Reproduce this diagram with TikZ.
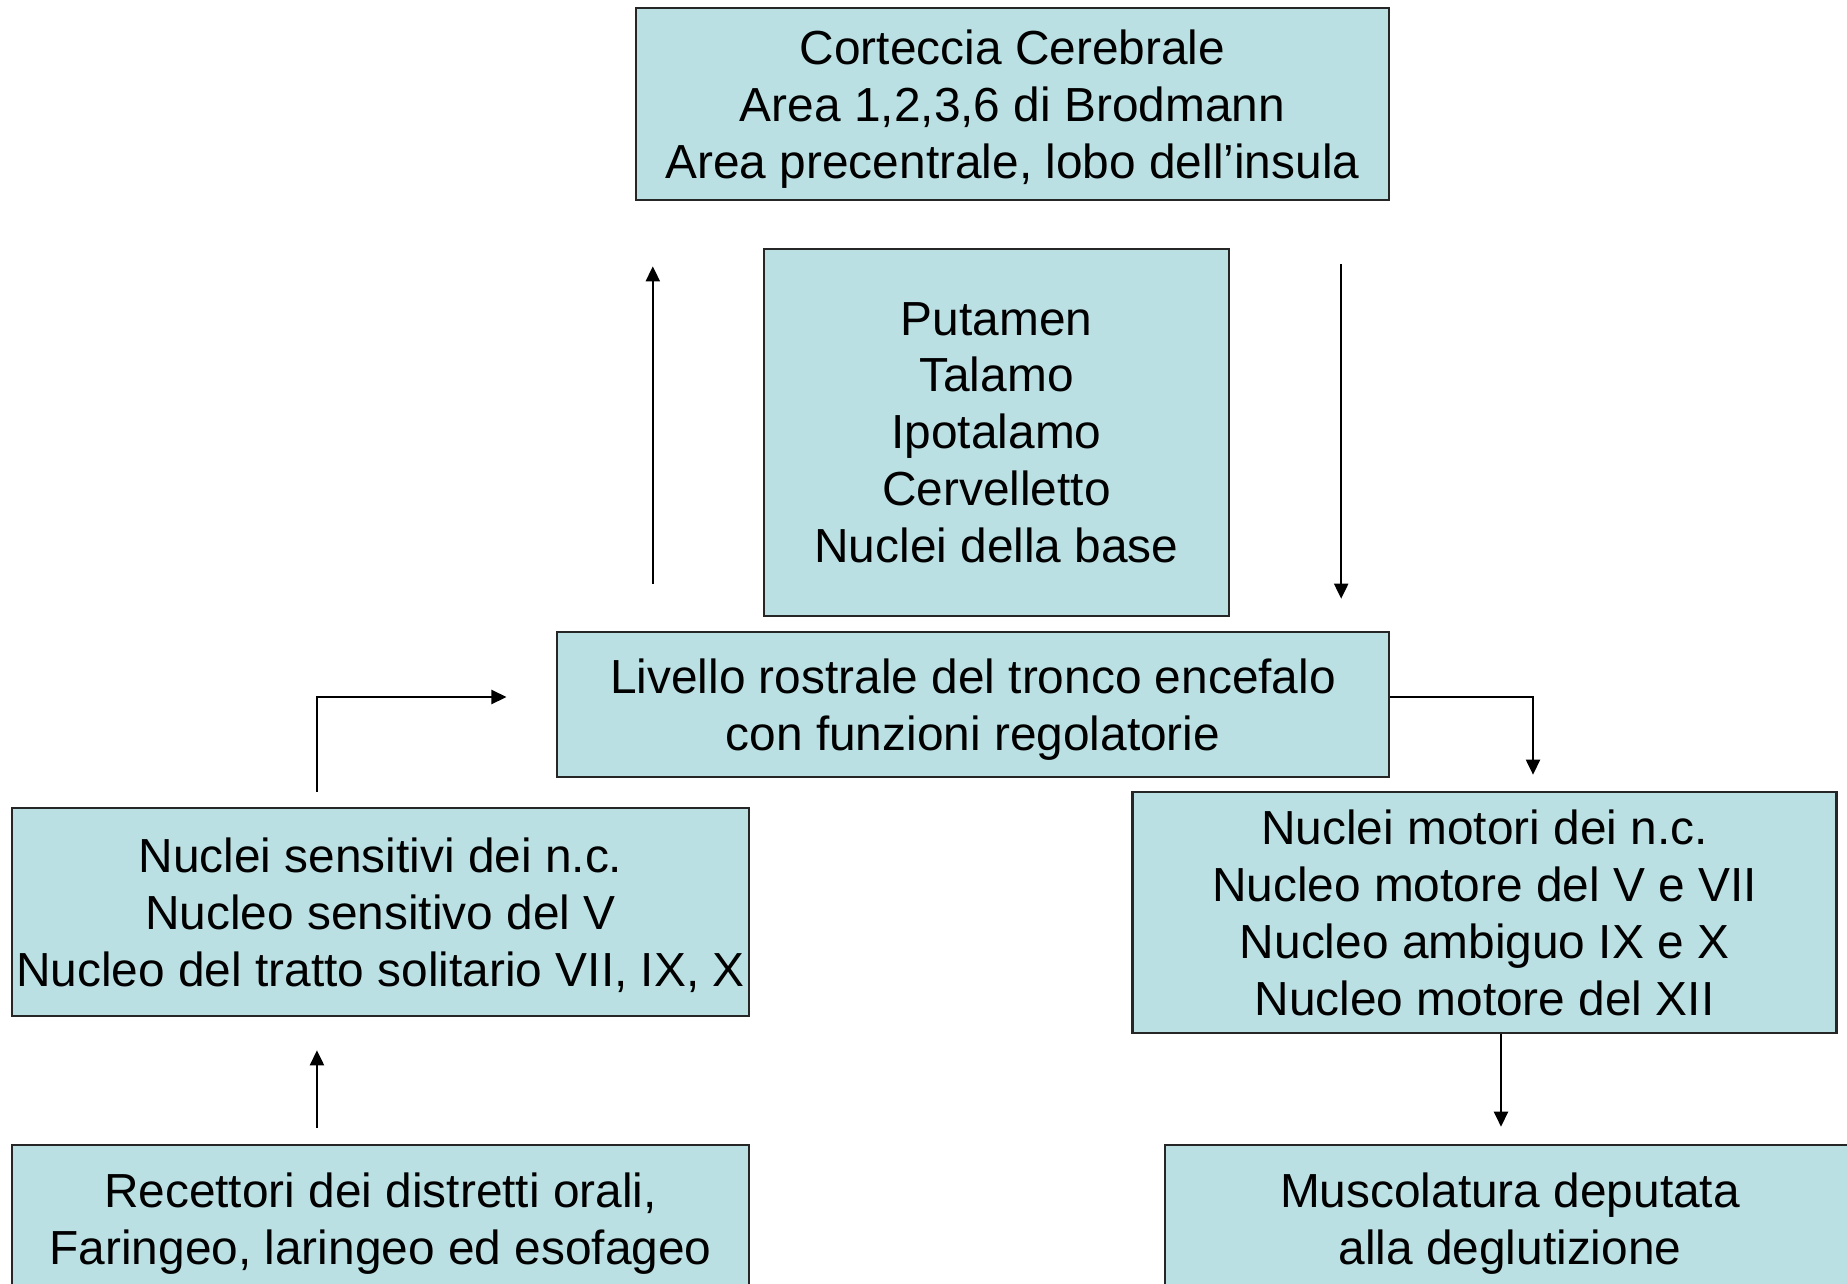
\documentclass[tikz,border=0pt]{standalone}
\usepackage{fontspec}
\setmainfont{Liberation Sans}
\usetikzlibrary{arrows.meta}
\definecolor{boxfill}{RGB}{187,224,227}

\begin{document}
\begin{tikzpicture}[x=0.01cm, y=-0.01cm, box/.style={draw=black!85, line width=0.7pt, fill=boxfill, inner sep=0pt, text depth=0pt, align=center, font=\fontsize{13.6}{16.2}\selectfont}, arr/.style={line width=0.6pt, -{Triangle[length=0.15cm, width=0.14cm]}}]
\useasboundingbox (0,0) rectangle (1847,1284);
\clip (0,0) rectangle (1847,1284);
\node[box, minimum width=7.53cm, minimum height=1.92cm] (cor) at (1012.5,104) {Corteccia Cerebrale\\Area 1,2,3,6 di Brodmann\\Area precentrale, lobo dell’insula};
\node[box, minimum width=4.65cm, minimum height=3.67cm] (put) at (996.5,432.5) {Putamen\\Talamo\\Ipotalamo\\Cervelletto\\Nuclei della base};
\node[box, minimum width=8.32cm, minimum height=1.45cm] (liv) at (973,704.5) {Livello rostrale del tronco encefalo\\con funzioni regolatorie};
\node[box, minimum width=7.37cm, minimum height=2.08cm] (sens) at (380.5,912) {Nuclei sensitivi dei n.c.\\Nucleo sensitivo del V\\Nucleo del tratto solitario VII, IX, X};
\node[box, minimum width=7.04cm, minimum height=2.41cm] (mot) at (1484.5,912.5) {Nuclei motori dei n.c.\\Nucleo motore del V e VII\\Nucleo ambiguo IX e X\\Nucleo motore del XII};
\node[box, minimum width=7.37cm, minimum height=1.48cm] (rec) at (380.5,1219) {Recettori dei distretti orali,\\Faringeo, laringeo ed esofageo};
\node[box, minimum width=6.90cm, minimum height=1.48cm] (mus) at (1510,1219) {Muscolatura deputata\\alla deglutizione};
\draw[arr, shorten <=0.47cm, shorten >=0.65cm] ([xshift=-3.2cm]liv.north) -- ([xshift=-3.2cm]liv.north |- cor.south);
\draw[arr, shorten <=0.63cm, shorten >=0.32cm] ([xshift=3.285cm]cor.south) -- ([xshift=3.285cm]cor.south |- liv.north);
\draw[arr, shorten <=0.15cm, shorten >=0.49cm] ([xshift=-0.635cm]sens.north) |- ([yshift=0.075cm]liv.west);
\draw[arr, shorten >=0.16cm] ([yshift=0.075cm]liv.east) -| ([xshift=0.485cm]mot.north);
\draw[arr, shorten <=0.16cm, shorten >=0.33cm] ([xshift=-0.635cm]rec.north) -- ([xshift=-0.635cm]rec.north |- sens.south);
\draw[arr, shorten >=0.17cm] ([xshift=0.165cm]mot.south) -- ([xshift=0.165cm]mot.south |- mus.north);
\end{tikzpicture}
\end{document}
